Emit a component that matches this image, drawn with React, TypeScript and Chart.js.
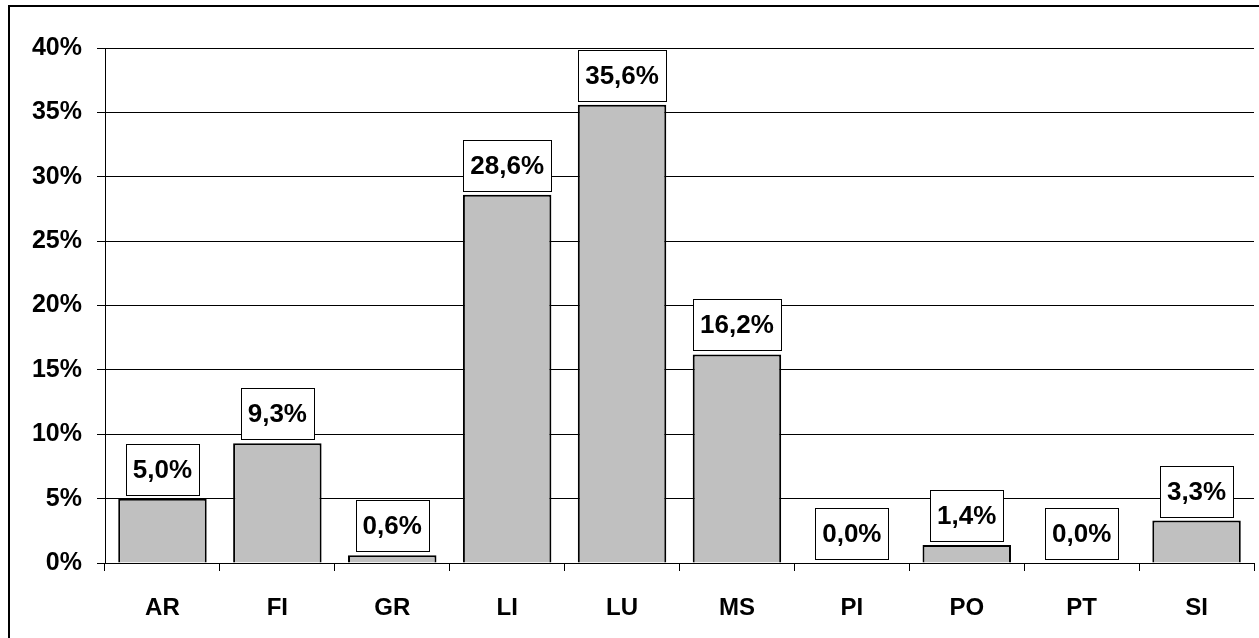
import React, { useEffect, useRef } from "react";
import { Chart, registerables } from "chart.js";

Chart.register(...registerables);

const categories = ["AR", "FI", "GR", "LI", "LU", "MS", "PI", "PO", "PT", "SI"];
const shares = [5.0, 9.3, 0.6, 28.6, 35.6, 16.2, 0.0, 1.4, 0.0, 3.3];
const yTicks = [0, 5, 10, 15, 20, 25, 30, 35, 40];

const FONT = "'Liberation Sans', Arial, sans-serif";

const fmt = (v: number) => v.toFixed(1).replace(".", ",") + "%";

const frameAndLabels = {
  id: "frameAndLabels",
  beforeDraw(chart: any) {
    const ctx = chart.ctx;
    ctx.save();
    ctx.fillStyle = "#ffffff";
    ctx.fillRect(0, 0, chart.width, chart.height);
    ctx.restore();
  },
  afterDatasetsDraw(chart: any) {
    const ctx = chart.ctx;
    const meta = chart.getDatasetMeta(0);
    ctx.save();
    ctx.font = `bold 26px ${FONT}`;
    ctx.textAlign = "center";
    ctx.textBaseline = "middle";
    meta.data.forEach((bar: any, i: number) => {
      const text = fmt(shares[i]);
      const tw = ctx.measureText(text).width;
      const w = Math.round(tw + 14);
      const h = 51;
      const bottom = Math.round(bar.y) - 4;
      const left = Math.round(bar.x - w / 2);
      ctx.fillStyle = "#ffffff";
      ctx.fillRect(left, bottom - h, w, h);
      ctx.strokeStyle = "#000000";
      ctx.lineWidth = 1;
      ctx.strokeRect(left + 0.5, bottom - h + 0.5, w, h);
      ctx.fillStyle = "#000000";
      ctx.fillText(text, bar.x, bottom - h / 2 + 1);
    });
    ctx.restore();
  },
  afterDraw(chart: any) {
    const ctx = chart.ctx;
    ctx.save();
    ctx.strokeStyle = "#000000";
    ctx.lineWidth = 2;
    ctx.strokeRect(9, 6, chart.width + 20, chart.height + 20);
    ctx.restore();
  },
};

export default function App() {
  const ref = useRef<HTMLCanvasElement | null>(null);

  useEffect(() => {
    if (!ref.current) return;
    const chart = new Chart(ref.current, {
      type: "bar",
      data: {
        labels: categories,
        datasets: [
          {
            data: shares,
            backgroundColor: "#c0c0c0",
            borderColor: "#000000",
            borderWidth: 2,
            barPercentage: 0.77,
            categoryPercentage: 1,
          },
        ],
      },
      options: {
        animation: false,
        responsive: false,
        devicePixelRatio: 1,
        layout: { padding: { left: 0, top: 48, right: 5, bottom: 0 } },
        plugins: {
          legend: { display: false },
          tooltip: { enabled: false },
        },
        scales: {
          x: {
            offset: true,
            grid: {
              display: true,
              offset: true,
              drawOnChartArea: false,
              drawTicks: true,
              tickLength: 8,
              color: "#000000",
              lineWidth: 1,
            },
            border: { display: true, color: "#000000", width: 1 },
            ticks: {
              color: "#000000",
              font: { family: FONT, size: 24, weight: "bold" },
              padding: 23,
              maxRotation: 0,
            },
            afterFit(scale: any) {
              scale.height = 75;
            },
          },
          y: {
            min: 0,
            max: 40,
            afterBuildTicks(scale: any) {
              scale.ticks = yTicks.map((v) => ({ value: v }));
            },
            grid: {
              color: "#000000",
              lineWidth: 1,
              drawTicks: true,
              tickLength: 8,
            },
            border: { display: true, color: "#000000", width: 1 },
            ticks: {
              color: "#000000",
              font: { family: FONT, size: 25, weight: "bold" },
              padding: 15,
              callback: (v: any) => `${v}%`,
            },
            afterFit(scale: any) {
              scale.width = 105;
            },
          },
        },
      },
      plugins: [frameAndLabels],
    });
    return () => chart.destroy();
  }, []);

  return (
    <div style={{ position: "fixed", left: 0, top: 0, width: 1259, height: 638, background: "#fff" }}>
      <canvas ref={ref} width={1259} height={638} style={{ display: "block" }} />
    </div>
  );
}
